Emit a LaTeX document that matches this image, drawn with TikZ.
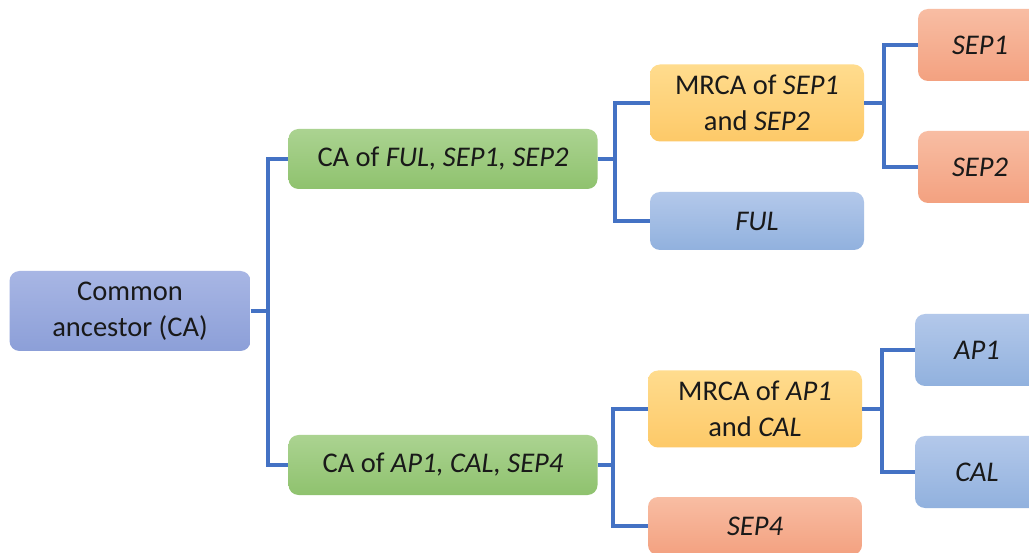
\documentclass[tikz,border=0pt]{standalone}
\usepackage{fontspec}
\setmainfont{Carlito}
\begin{document}
\begin{tikzpicture}[x=1pt,y=1pt,
  box/.style={rounded corners=10pt, text=black!90, align=center, inner sep=0pt,
    font=\fontsize{28.5}{36}\selectfont},
  bluebox/.style={box, top color=bluetop, bottom color=bluebot},
  cabox/.style={box, top color=catop, bottom color=cabot},
  greenbox/.style={box, top color=greentop, bottom color=greenbot},
  yellowbox/.style={box, top color=yellowtop, bottom color=yellowbot},
  salmonbox/.style={box, top color=salmontop, bottom color=salmonbot},
  link/.style={draw=linkblue, line width=4pt}
]
\definecolor{bluetop}{HTML}{B3C8EA}
\definecolor{bluebot}{HTML}{91B1DE}
\definecolor{catop}{HTML}{A8B6E4}
\definecolor{cabot}{HTML}{8C9FD8}
\definecolor{greentop}{HTML}{ABD391}
\definecolor{greenbot}{HTML}{8FC26E}
\definecolor{yellowtop}{HTML}{FFDC8E}
\definecolor{yellowbot}{HTML}{FDC968}
\definecolor{salmontop}{HTML}{F8BDA3}
\definecolor{salmonbot}{HTML}{F3A180}
\definecolor{linkblue}{HTML}{4472C4}
\clip (0,-553) rectangle (1029,0);
\fill[white] (0,-553) rectangle (1029,0);

\node[cabox, minimum width=241, minimum height=80] (ca) at (130,-311) {Common\\ancestor (CA)};
\node[greenbox, minimum width=309, minimum height=60] (cafs) at (443,-159) {CA of \textit{FUL, SEP1, SEP2}};
\node[greenbox, minimum width=309, minimum height=60] (caap) at (443,-465) {CA of \textit{AP1, CAL, SEP4}};
\node[yellowbox, minimum width=214, minimum height=77] (mrs) at (757,-103) {MRCA of \textit{SEP1}\\and \textit{SEP2}};
\node[bluebox, minimum width=214, minimum height=58] (ful) at (757,-221) {\textit{FUL}};
\node[yellowbox, minimum width=214, minimum height=77] (mra) at (755,-409) {MRCA of \textit{AP1}\\and \textit{CAL}};
\node[salmonbox, minimum width=214, minimum height=58] (sep4) at (755,-526) {\textit{SEP4}};
\node[salmonbox, minimum width=124, minimum height=72] (sep1) at (980,-45) {\textit{SEP1}};
\node[salmonbox, minimum width=124, minimum height=72] (sep2) at (980,-167) {\textit{SEP2}};
\node[bluebox, minimum width=124, minimum height=72] (ap1) at (977,-350) {\textit{AP1}};
\node[bluebox, minimum width=124, minimum height=72] (cal) at (977,-472) {\textit{CAL}};

\coordinate (j1) at (268,-311);
\coordinate (j2) at (615,-159);
\coordinate (j3) at (884,-103);
\coordinate (j4) at (613,-465);
\coordinate (j5) at (882,-409);

\draw[link] (ca.east) -- (j1);
\draw[link] (j1) |- (cafs.west);
\draw[link] (j1) |- (caap.west);
\draw[link] (cafs.east) -- (j2);
\draw[link] (j2) |- (mrs.west);
\draw[link] (j2) |- (ful.west);
\draw[link] (mrs.east) -- (j3);
\draw[link] (j3) |- (sep1.west);
\draw[link] (j3) |- (sep2.west);
\draw[link] (caap.east) -- (j4);
\draw[link] (j4) |- (mra.west);
\draw[link] (j4) |- (sep4.west);
\draw[link] (mra.east) -- (j5);
\draw[link] (j5) |- (ap1.west);
\draw[link] (j5) |- (cal.west);
\end{tikzpicture}
\end{document}
